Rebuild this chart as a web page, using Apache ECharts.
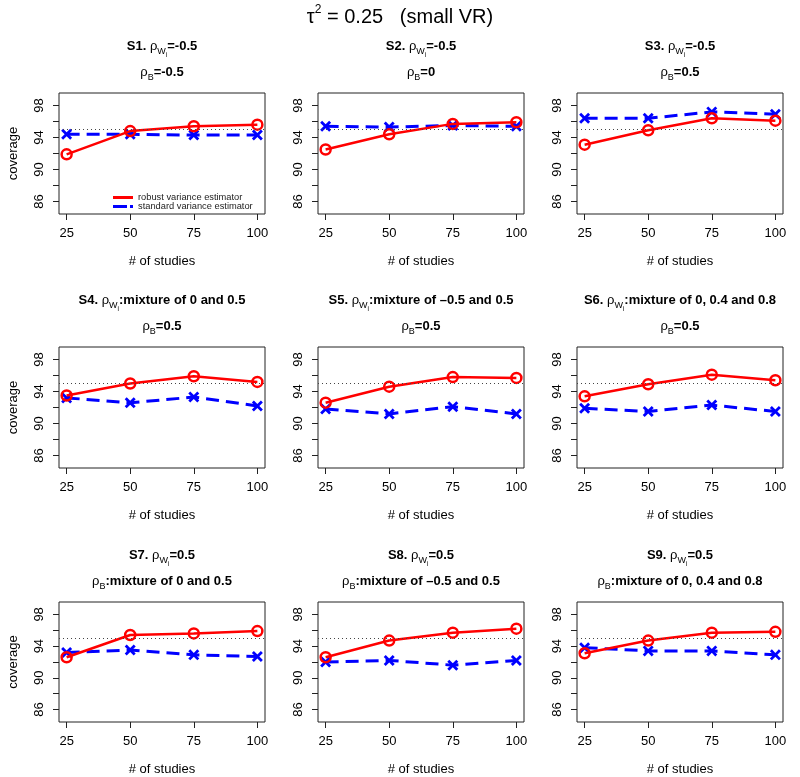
<!DOCTYPE html>
<html>
<head>
<meta charset="utf-8">
<title>coverage</title>
<script src="https://cdn.jsdelivr.net/npm/echarts@6/dist/echarts.min.js"></script>
<style>
  html, body { margin: 0; padding: 0; background: #fff; }
  #chart { width: 800px; height: 777px; }
</style>
</head>
<body>
<div id="chart"></div>
<script>
  const studies = [25, 50, 75, 100];
  const xTicks = [25, 50, 75, 100];
  const yTicks = [86, 88, 90, 92, 94, 96, 98];
  const yLabels = [86, 90, 94, 98];

  // robust variance estimator, one row per scenario S1..S9
  const robust = [
    [91.9, 94.8, 95.4, 95.6],
    [92.5, 94.4, 95.7, 95.9],
    [93.1, 94.9, 96.4, 96.1],
    [93.5, 95.0, 95.9, 95.2],
    [92.6, 94.6, 95.8, 95.7],
    [93.4, 94.9, 96.1, 95.4],
    [92.6, 95.4, 95.6, 95.9],
    [92.6, 94.7, 95.7, 96.2],
    [93.1, 94.7, 95.7, 95.8]
  ];
  // standard variance estimator
  const standard = [
    [94.4, 94.4, 94.3, 94.3],
    [95.4, 95.3, 95.5, 95.4],
    [96.4, 96.4, 97.2, 96.9],
    [93.2, 92.6, 93.3, 92.2],
    [91.8, 91.2, 92.1, 91.2],
    [91.9, 91.5, 92.3, 91.5],
    [93.2, 93.5, 92.9, 92.7],
    [92.0, 92.2, 91.6, 92.2],
    [93.8, 93.4, 93.4, 92.9]
  ];
  const nominal = 95;

  const wLabels = ['=-0.5', '=-0.5', '=-0.5', ':mixture of 0 and 0.5', ':mixture of \u20130.5 and 0.5',
    ':mixture of 0, 0.4 and 0.8', '=0.5', '=0.5', '=0.5'];
  const bLabels = ['=-0.5', '=0', '=0.5', '=0.5', '=0.5', '=0.5', ':mixture of 0 and 0.5',
    ':mixture of \u20130.5 and 0.5', ':mixture of 0, 0.4 and 0.8'];

  const FONT = '"Liberation Sans", Arial, sans-serif';
  const colLeft = [59, 318, 577];
  const rowTop = [93, 347, 602];
  const plotW = 206, plotH = 121;
  const crossPath = 'path://M0,1.8L1.8,0L5,3.2L8.2,0L10,1.8L6.8,5L10,8.2L8.2,10L5,6.8L1.8,10L0,8.2L3.2,5Z';

  const titleRich = {
    b: { fontSize: 13, fontWeight: 'bold', lineHeight: 16, verticalAlign: 'top', color: '#000', fontFamily: FONT },
    r: { fontSize: 13, fontWeight: 'normal', lineHeight: 16, verticalAlign: 'top', color: '#000', fontFamily: FONT },
    s: { fontSize: 9, fontWeight: 'normal', lineHeight: 10, padding: [7, 0, 0, 0], verticalAlign: 'top', color: '#000', fontFamily: FONT },
    ss: { fontSize: 6.5, fontWeight: 'normal', lineHeight: 7, padding: [12, 0, 0, 0], verticalAlign: 'top', color: '#000', fontFamily: FONT }
  };

  const grid = [], xAxis = [], yAxis = [], series = [];
  const title = [{
    left: 400, top: 3, textAlign: 'center', padding: 0,
    text: '{t|\u03c4}{p|2}{t| = 0.25   (small VR)}',
    textStyle: {
      fontWeight: 'normal',
      rich: {
        t: { fontSize: 20, fontWeight: 'normal', lineHeight: 22, padding: [4, 0, 0, 0], verticalAlign: 'top', color: '#000', fontFamily: FONT },
        p: { fontSize: 12, fontWeight: 'normal', lineHeight: 13, padding: [1, 0, 0, 0], verticalAlign: 'top', color: '#000', fontFamily: FONT }
      }
    }
  }];

  for (let i = 0; i < 9; i++) {
    const r = Math.floor(i / 3), c = i % 3;
    const cx = colLeft[c] + plotW / 2;
    grid.push({
      left: colLeft[c], top: rowTop[r], width: plotW, height: plotH,
      show: true, borderColor: '#222', borderWidth: 1
    });
    title.push({
      left: cx, top: rowTop[r] - 53, textAlign: 'center', padding: 0,
      text: '{b|S' + (i + 1) + '. }{r|\u03c1}{s|W}{ss|i}{b|' + wLabels[i] + '}',
      textStyle: { rich: titleRich }
    });
    title.push({
      left: cx, top: rowTop[r] - 27, textAlign: 'center', padding: 0,
      text: '{r|\u03c1}{s|B}{b|' + bLabels[i] + '}',
      textStyle: { rich: titleRich }
    });
    xAxis.push({
      gridIndex: i, type: 'value', min: 22, max: 103,
      axisLine: { show: false },
      axisTick: { show: true, length: 6, customValues: xTicks, lineStyle: { color: '#222' } },
      axisLabel: { customValues: xTicks, margin: 13, fontSize: 13, color: '#000', fontFamily: FONT },
      splitLine: { show: false },
      name: '# of studies', nameLocation: 'middle', nameGap: 41,
      nameTextStyle: { fontSize: 13, color: '#000', fontFamily: FONT }
    });
    yAxis.push({
      gridIndex: i, type: 'value', min: 84.44, max: 99.56,
      axisLine: { show: false },
      axisTick: { show: true, length: 6, customValues: yTicks, lineStyle: { color: '#222' } },
      axisLabel: { customValues: yLabels, rotate: 90, margin: 13, fontSize: 13, color: '#000', fontFamily: FONT },
      splitLine: { show: false },
      name: c === 0 ? 'coverage' : '', nameLocation: 'middle', nameGap: 39,
      nameTextStyle: { fontSize: 13, color: '#000', fontFamily: FONT }
    });
    series.push({
      type: 'line', name: 'standard variance estimator',
      xAxisIndex: i, yAxisIndex: i, z: 2,
      data: studies.map((x, k) => [x, standard[i][k]]),
      symbol: crossPath, symbolSize: 11,
      itemStyle: { color: '#0000ff' },
      lineStyle: { color: '#0000ff', width: 3, type: [13, 7] },
      emphasis: { disabled: true },
      markLine: {
        silent: true, symbol: 'none', animation: false,
        label: { show: false },
        lineStyle: { color: '#444', width: 1, type: [1, 3] },
        data: [{ yAxis: nominal }]
      }
    });
    series.push({
      type: 'line', name: 'robust variance estimator',
      xAxisIndex: i, yAxisIndex: i, z: 3,
      data: studies.map((x, k) => [x, robust[i][k]]),
      symbol: 'circle', symbolSize: 10,
      itemStyle: { color: 'rgba(0,0,0,0)', borderColor: '#ff0000', borderWidth: 2.5 },
      lineStyle: { color: '#ff0000', width: 2.5 },
      emphasis: { disabled: true }
    });
  }

  const chart = echarts.init(document.getElementById('chart'));
  chart.setOption({
    animation: false,
    backgroundColor: '#fff',
    title: title,
    grid: grid,
    xAxis: xAxis,
    yAxis: yAxis,
    legend: {
      left: 113, top: 193, orient: 'vertical', padding: 0,
      itemWidth: 20, itemHeight: 3, itemGap: 0, selectedMode: false,
      textStyle: { fontSize: 9.3, color: '#222', fontFamily: FONT },
      data: [
        { name: 'robust variance estimator', icon: 'path://M0,0h20v3h-20z',
          itemStyle: { color: '#ff0000', borderWidth: 0 } },
        { name: 'standard variance estimator', icon: 'path://M0,0h14v3h-14zM17,0h3v3h-3z',
          itemStyle: { color: '#0000ff', borderWidth: 0 } }
      ]
    },
    series: series
  });
</script>
</body>
</html>
